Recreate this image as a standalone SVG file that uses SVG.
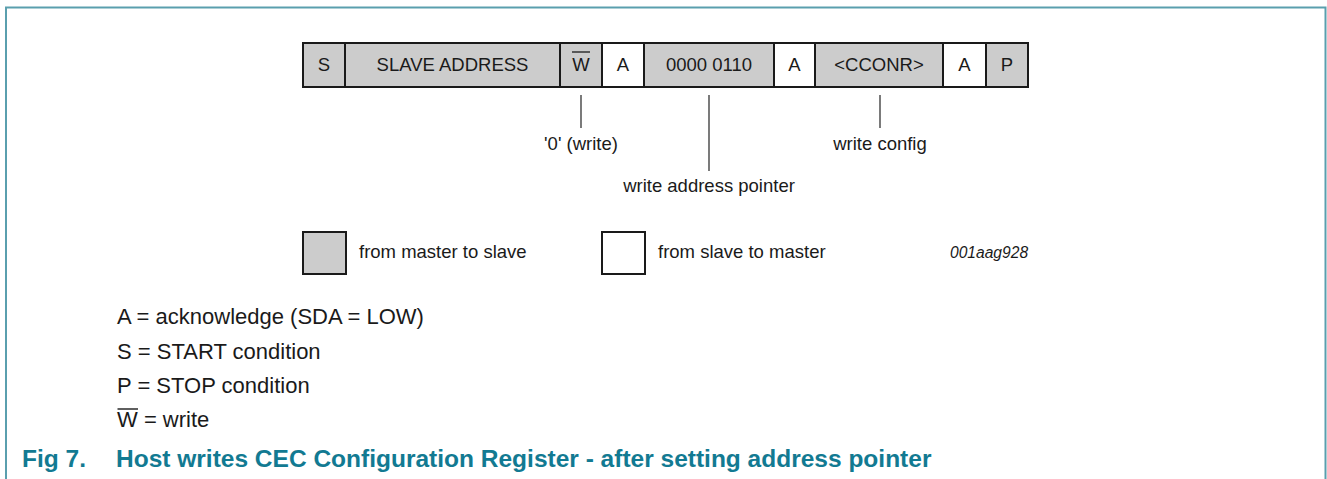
<svg xmlns="http://www.w3.org/2000/svg" width="1327" height="479" viewBox="0 0 1327 479">
<style>
.t{font-family:"Liberation Sans",Arial,sans-serif;font-size:18.5px;fill:#1a1a1a}
.n{font-family:"Liberation Sans",Arial,sans-serif;font-size:22px;fill:#1a1a1a}
.c{text-anchor:middle}
.g{fill:#cccccc;stroke:#1a1a1a;stroke-width:2}
.w{fill:#ffffff;stroke:#1a1a1a;stroke-width:2}
.ln{stroke:#333;stroke-width:1.3;fill:none}
.ti{font-family:"Liberation Sans",Arial,sans-serif;font-size:24.5px;font-weight:bold;fill:#127a92}
</style>
<rect width="1327" height="479" fill="#ffffff"/>
<path d="M6,479 V7.5 H1325.5 V479" fill="none" stroke="#5a9fae" stroke-width="2"/>
<g id="fields">
<g id="f-s"><rect class="g" x="303" y="43" width="42" height="44"/><text class="t c" x="324" y="71">S</text></g>
<g id="f-addr"><rect class="g" x="345" y="43" width="215" height="44"/><text class="t c" x="452.5" y="71">SLAVE ADDRESS</text></g>
<g id="f-w"><rect class="g" x="560" y="43" width="42" height="44"/><text class="t c" x="581" y="71">W</text><line x1="572" y1="52" x2="590" y2="52" stroke="#1a1a1a" stroke-width="1.3"/></g>
<g id="f-a1"><rect class="w" x="602" y="43" width="42" height="44"/><text class="t c" x="623" y="71">A</text></g>
<g id="f-ptr"><rect class="g" x="644" y="43" width="130" height="44"/><text class="t c" x="709" y="71">0000 0110</text></g>
<g id="f-a2"><rect class="w" x="774" y="43" width="41" height="44"/><text class="t c" x="794.5" y="71">A</text></g>
<g id="f-cconr"><rect class="g" x="815" y="43" width="128" height="44"/><text class="t c" x="879" y="71">&lt;CCONR&gt;</text></g>
<g id="f-a3"><rect class="w" x="943" y="43" width="43" height="44"/><text class="t c" x="964.5" y="71">A</text></g>
<g id="f-p"><rect class="g" x="986" y="43" width="42" height="44"/><text class="t c" x="1007" y="71">P</text></g>
</g>
<g id="connectors">
<line class="ln" x1="581" y1="95" x2="581" y2="128"/>
<line class="ln" x1="709" y1="95" x2="709" y2="171"/>
<line class="ln" x1="880" y1="95" x2="880" y2="128"/>
</g>
<g id="labels">
<text class="t c" x="581" y="150">'0' (write)</text>
<text class="t c" x="709" y="192">write address pointer</text>
<text class="t c" x="880" y="150">write config</text>
</g>
<g id="legend">
<rect class="g" x="303" y="232" width="43" height="42"/>
<text class="t" x="359" y="258">from master to slave</text>
<rect class="w" x="602" y="232" width="43" height="42"/>
<text class="t" x="658" y="258">from slave to master</text>
<text class="t" x="950" y="258" style="font-style:italic;font-size:15.6px">001aag928</text>
</g>
<g id="notes">
<text class="n" x="117" y="324">A = acknowledge (SDA = LOW)</text>
<text class="n" x="117" y="359">S = START condition</text>
<text class="n" x="117" y="393">P = STOP condition</text>
<text class="n" x="117" y="427">W = write</text>
<line x1="117.5" y1="409" x2="138" y2="409" stroke="#1a1a1a" stroke-width="1.4"/>
</g>
<g id="caption">
<text class="ti" x="22" y="467">Fig 7.</text>
<text class="ti" x="116" y="467">Host writes CEC Configuration Register - after setting address pointer</text>
</g>
</svg>
